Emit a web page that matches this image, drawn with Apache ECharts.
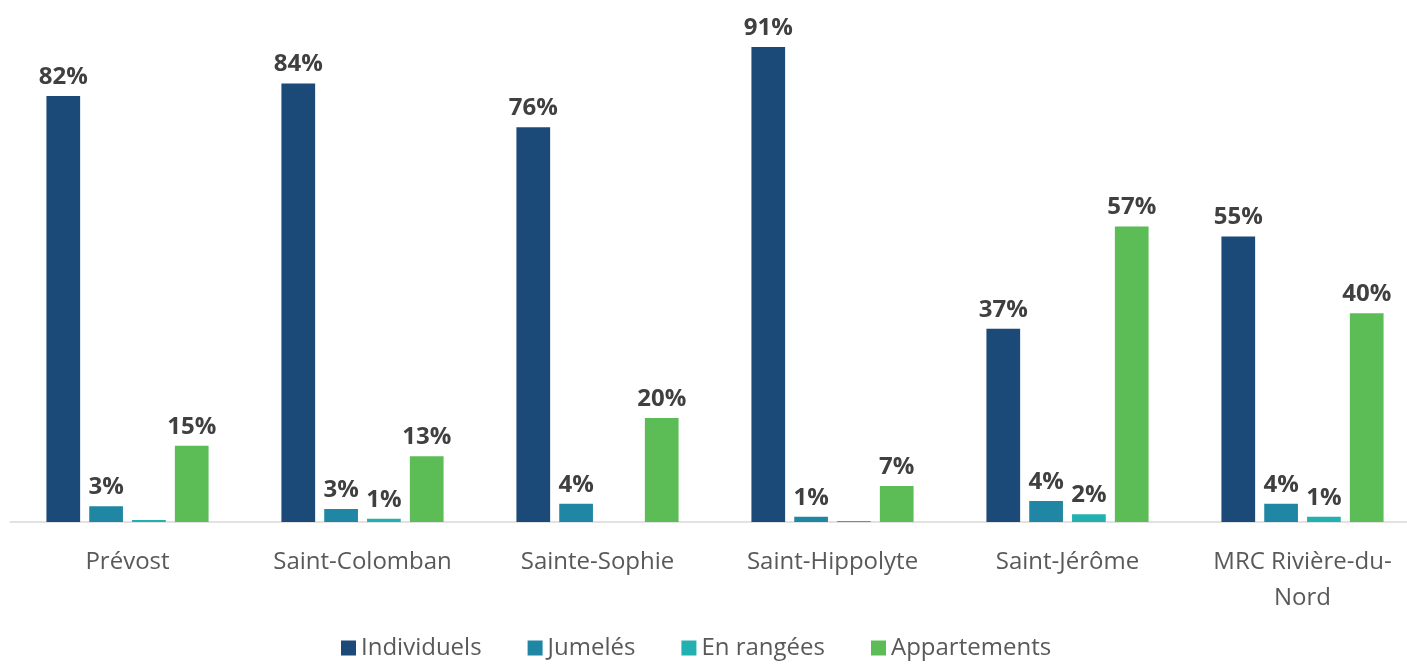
<!DOCTYPE html>
<html>
<head>
<meta charset="utf-8">
<script src="https://cdn.jsdelivr.net/npm/echarts@6/dist/echarts.min.js"></script>
<style>html,body{margin:0;padding:0;background:#fff;overflow:hidden;}#c{width:1420px;height:665px;}</style>
</head>
<body>
<div id="c"></div>
<script>
const categories = ["Prévost", "Saint-Colomban", "Sainte-Sophie", "Saint-Hippolyte", "Saint-Jérôme", "MRC Rivière-du-\nNord"];
const individuels = [81.6, 84, 75.6, 91, 37, 54.7];
const jumeles = [3, 2.5, 3.5, 1, 4, 3.5];
const enRangees = [0.4, 0.6, 0, 0.2, 1.5, 1];
const appartements = [14.6, 12.6, 19.9, 6.9, 56.6, 40];
const seriesNames = ["Individuels", "Jumelés", "En rangées", "Appartements"];
const colors = ["#1b4a78", "#1f86a4", "#23b0b0", "#5cbd57"];

const chart = echarts.init(document.getElementById('c'));
const label = {
  show: true, position: 'top', distance: 7,
  fontFamily: 'Open Sans', fontWeight: 'bold', fontSize: 24, color: '#404040',
  formatter: p => { const r = Math.round(p.value); return r > 0 ? r + '%' : ''; }
};
const data = [individuels, jumeles, enRangees, appartements];
chart.setOption({
  animation: false,
  color: colors,
  grid: { left: 10, right: 0, top: 0, bottom: 143 },
  legend: {
    bottom: 0, left: 336,
    itemWidth: 15, itemHeight: 15, itemGap: 46, icon: 'rect',
    textStyle: { fontFamily: 'Open Sans', fontSize: 24, color: '#595959' },
    data: seriesNames
  },
  xAxis: {
    type: 'category', data: categories,
    axisLine: { lineStyle: { color: '#d9d9d9', width: 1.5 } },
    axisTick: { show: false },
    axisLabel: { fontFamily: 'Open Sans', fontSize: 24, color: '#595959', margin: 22, lineHeight: 36, interval: 0 }
  },
  yAxis: { type: 'value', min: 0, max: 100, show: false, splitLine: { show: false } },
  series: seriesNames.map((n, i) => ({
    name: n, type: 'bar', data: data[i], barGap: '27%', barCategoryGap: '31%', label: label
  }))
});
</script>
</body>
</html>
